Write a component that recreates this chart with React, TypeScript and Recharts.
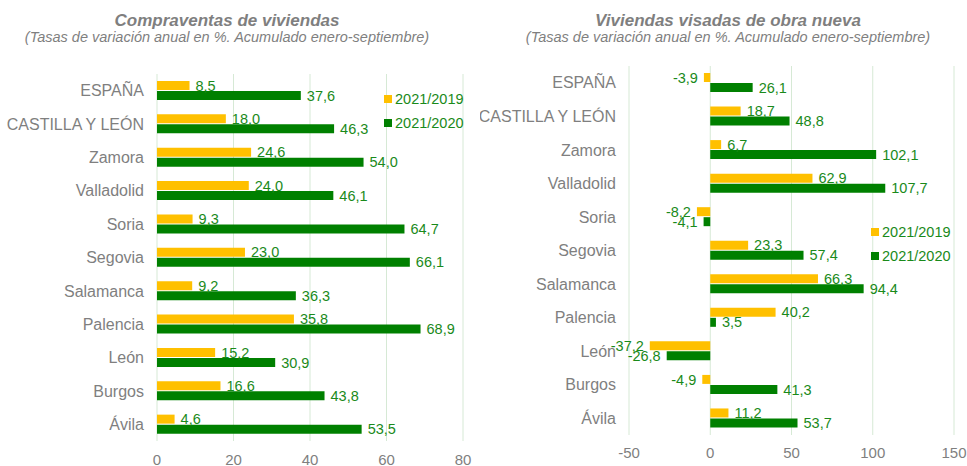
import { BarChart, Bar, XAxis, YAxis, CartesianGrid, LabelList, Legend } from 'recharts';

const categories = ['ESPAÑA', 'CASTILLA Y LEÓN', 'Zamora', 'Valladolid', 'Soria', 'Segovia', 'Salamanca', 'Palencia', 'León', 'Burgos', 'Ávila'];
const seriesNames = ['2021/2019', '2021/2020'];

// Compraventas de viviendas
const salesVs2019 = [8.5, 18.0, 24.6, 24.0, 9.3, 23.0, 9.2, 35.8, 15.2, 16.6, 4.6];
const salesVs2020 = [37.6, 46.3, 54.0, 46.1, 64.7, 66.1, 36.3, 68.9, 30.9, 43.8, 53.5];
const salesTicks = [0, 20, 40, 60, 80];

// Viviendas visadas de obra nueva
const permitsVs2019 = [-3.9, 18.7, 6.7, 62.9, -8.2, 23.3, 66.3, 40.2, -37.2, -4.9, 11.2];
const permitsVs2020 = [26.1, 48.8, 102.1, 107.7, -4.1, 57.4, 94.4, 3.5, -26.8, 41.3, 53.7];
const permitsTicks = [-50, 0, 50, 100, 150];

const YELLOW = '#FFC000';
const GREEN = '#008000';
const LABEL_GREEN = '#1a8a1a';
const GREY = '#7f7f7f';
const FONT = '"Liberation Sans", Arial, sans-serif';

const fmt = (v: any) => Number(v).toFixed(1).replace('.', ',');

const buildRows = (a: number[], b: number[]) =>
  categories.map((name, i) => ({ name, a: a[i], b: b[i] }));

function LegendBox() {
  const colors = [YELLOW, GREEN];
  return (
    <div style={{ fontFamily: FONT }}>
      {seriesNames.map((n, i) => (
        <div key={n} style={{ display: 'flex', alignItems: 'center', height: 24 }}>
          <span style={{ width: 8, height: 8, background: colors[i], marginRight: 3 }} />
          <span style={{ fontSize: 14.5, color: LABEL_GREEN }}>{n}</span>
        </div>
      ))}
    </div>
  );
}

interface PanelProps {
  title: string;
  titleCenter: number;
  left: number;
  width: number;
  top: number;
  xAxisHeight: number;
  tickMargin: number;
  marginRight: number;
  yWidth: number;
  ticks: number[];
  rows: { name: string; a: number; b: number }[];
  legendPos: { left: number; top: number };
}

function Panel({ title, titleCenter, left, width, top, xAxisHeight, tickMargin, marginRight, yWidth, ticks, rows, legendPos }: PanelProps) {
  const headStyle = { position: 'absolute' as const, left: titleCenter - 300, width: 600, textAlign: 'center' as const, color: GREY, fontFamily: FONT, fontStyle: 'italic' };
  return (
    <div style={{ position: 'absolute', left, top: 0, width, height: 466 }}>
      <div style={{ ...headStyle, top: 11, fontSize: 17, fontWeight: 'bold', lineHeight: '20px' }}>{title}</div>
      <div style={{ ...headStyle, top: 29, fontSize: 14.5, lineHeight: '16px' }}>
        (Tasas de variación anual en %. Acumulado enero-septiembre)
      </div>
      <BarChart
        width={width}
        height={466}
        data={rows}
        layout="vertical"
        margin={{ top, right: marginRight, bottom: 0, left: 0 }}
        barSize={9}
        barGap={1}
        style={{ fontFamily: FONT }}
      >
        <CartesianGrid horizontal={false} stroke="#d6e9d5" strokeWidth={1} />
        <XAxis
          type="number"
          domain={[ticks[0], ticks[ticks.length - 1]]}
          ticks={ticks}
          axisLine={false}
          tickLine={false}
          tickSize={0}
          tickMargin={tickMargin}
          height={xAxisHeight}
          tick={{ fill: GREY, fontSize: 15 }}
        />
        <YAxis
          type="category"
          dataKey="name"
          width={yWidth}
          axisLine={false}
          tickLine={false}
          tickSize={0}
          tickMargin={13}
          interval={0}
          tick={{ fill: GREY, fontSize: 16 }}
        />
        <Legend
          layout="vertical"
          align="center"
          verticalAlign="middle"
          content={() => <LegendBox />}
          wrapperStyle={{ left: legendPos.left, top: legendPos.top, width: 100 }}
        />
        <Bar dataKey="a" name={seriesNames[0]} fill={YELLOW} isAnimationActive={false}>
          <LabelList dataKey="a" position="right" offset={6} formatter={fmt} fill={LABEL_GREEN} fontSize={14.5} />
        </Bar>
        <Bar dataKey="b" name={seriesNames[1]} fill={GREEN} isAnimationActive={false}>
          <LabelList dataKey="b" position="right" offset={6} formatter={fmt} fill={LABEL_GREEN} fontSize={14.5} />
        </Bar>
      </BarChart>
    </div>
  );
}

export default function App() {
  return (
    <div style={{ position: 'absolute', left: 0, top: 0, width: 967, height: 466, background: '#fff', overflow: 'hidden' }}>
      <Panel
        title="Compraventas de viviendas"
        titleCenter={227}
        left={0}
        width={480}
        top={74}
        xAxisHeight={25}
        tickMargin={13}
        marginRight={17}
        yWidth={157}
        ticks={salesTicks}
        rows={buildRows(salesVs2019, salesVs2020)}
        legendPos={{ left: 384, top: 87 }}
      />
      <Panel
        title="Viviendas visadas de obra nueva"
        titleCenter={248}
        left={480}
        width={487}
        top={66}
        xAxisHeight={31}
        tickMargin={12}
        marginRight={13}
        yWidth={149}
        ticks={permitsTicks}
        rows={buildRows(permitsVs2019, permitsVs2020)}
        legendPos={{ left: 391, top: 220 }}
      />
    </div>
  );
}
